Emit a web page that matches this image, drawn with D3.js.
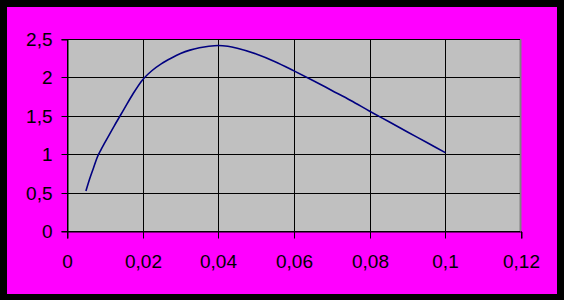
<!DOCTYPE html>
<html>
<head>
<meta charset="utf-8">
<script src="https://cdn.jsdelivr.net/npm/d3@7/dist/d3.min.js"></script>
<style>
html,body{margin:0;padding:0;background:#000;}
svg{display:block;}
text{font-family:"Liberation Sans",Arial,sans-serif;font-size:19px;fill:#000;}
</style>
</head>
<body>
<svg id="chart" width="564" height="300"></svg>
<script>
const xValues = [0.005, 0.006, 0.007, 0.008, 0.009, 0.01, 0.0125, 0.015, 0.0175, 0.02, 0.0225, 0.025, 0.0275, 0.03, 0.0325, 0.035, 0.0375, 0.04, 0.0425, 0.045, 0.05, 0.055, 0.06, 0.065, 0.07, 0.075, 0.08, 0.085, 0.09, 0.095, 0.1];
const yValues = [0.52, 0.68, 0.82, 0.96, 1.06, 1.15, 1.37, 1.58, 1.79, 1.97, 2.09, 2.18, 2.25, 2.31, 2.355, 2.385, 2.405, 2.415, 2.405, 2.38, 2.305, 2.205, 2.085, 1.96, 1.83, 1.70, 1.56, 1.425, 1.29, 1.155, 1.02];
const xTicks = [0, 0.02, 0.04, 0.06, 0.08, 0.1, 0.12];
const xTickLabels = ["0", "0,02", "0,04", "0,06", "0,08", "0,1", "0,12"];
const yTicks = [0, 0.5, 1, 1.5, 2, 2.5];
const yTickLabels = ["0", "0,5", "1", "1,5", "2", "2,5"];

const svg = d3.select("#chart");
svg.append("rect").attr("x",0).attr("y",0).attr("width",564).attr("height",300).attr("fill","#000");
svg.append("rect").attr("x",7).attr("y",7).attr("width",550).attr("height",287).attr("fill","#FF00FF");

const x = d3.scaleLinear().domain([0, 0.12]).range([67, 521]);
const y = d3.scaleLinear().domain([0, 2.5]).range([231, 39]);
const px = v => Math.round(x(v)) + 0.5;
const py = v => Math.round(y(v)) + 0.5;

// plot area
svg.append("rect").attr("x",67).attr("y",39).attr("width",454).attr("height",192).attr("fill","#C0C0C0");

// right border (gray)
svg.append("line").attr("x1",520.5).attr("x2",520.5).attr("y1",39).attr("y2",231)
  .attr("stroke","#808080").attr("stroke-width",2);

// vertical gridlines
svg.append("g").selectAll("line").data(xTicks.slice(0, xTicks.length-1)).join("line")
  .attr("x1",d=>px(d)).attr("x2",d=>px(d)).attr("y1",39).attr("y2",231)
  .attr("stroke","#000").attr("stroke-width",1);
// horizontal gridlines
svg.append("g").selectAll("line").data(yTicks).join("line")
  .attr("x1",67).attr("x2",520).attr("y1",d=>py(d)).attr("y2",d=>py(d))
  .attr("stroke","#000").attr("stroke-width",1);

// x axis
const xAxis = d3.axisBottom(x).tickValues(xTicks).tickSize(7).tickPadding(0).tickFormat((d,i)=>xTickLabels[i]);
const gx = svg.append("g").attr("transform","translate(0.5,231.5)").call(xAxis);
gx.select(".domain").attr("stroke","#000");
gx.selectAll(".tick").attr("transform", d => `translate(${Math.round(x(d))},0)`);
gx.selectAll(".tick line").attr("stroke","#000");
gx.selectAll(".tick text").attr("y",36).attr("dy",null)
  .style("font-family",'"Liberation Sans",Arial,sans-serif').style("font-size","19px").attr("fill","#000");

// y axis
const yAxis = d3.axisLeft(y).tickValues(yTicks).tickSize(6).tickPadding(0).tickFormat((d,i)=>yTickLabels[i]);
const gy = svg.append("g").attr("transform","translate(67.5,0.5)").call(yAxis);
gy.select(".domain").attr("stroke","#000");
gy.selectAll(".tick").attr("transform", d => `translate(0,${Math.round(y(d))})`);
gy.selectAll(".tick line").attr("stroke","#000");
gy.selectAll(".tick text").attr("x",-15).attr("dy","0.36em")
  .style("font-family",'"Liberation Sans",Arial,sans-serif').style("font-size","19px").attr("fill","#000");

// curve
const pts = xValues.map((v,i)=>[v, yValues[i]]);
const line = d3.line().x(d=>x(d[0])).y(d=>y(d[1])).curve(d3.curveMonotoneX);
svg.append("path").datum(pts).attr("d",line).attr("fill","none")
  .attr("stroke","#000080").attr("stroke-width",1.6);
</script>
</body>
</html>
